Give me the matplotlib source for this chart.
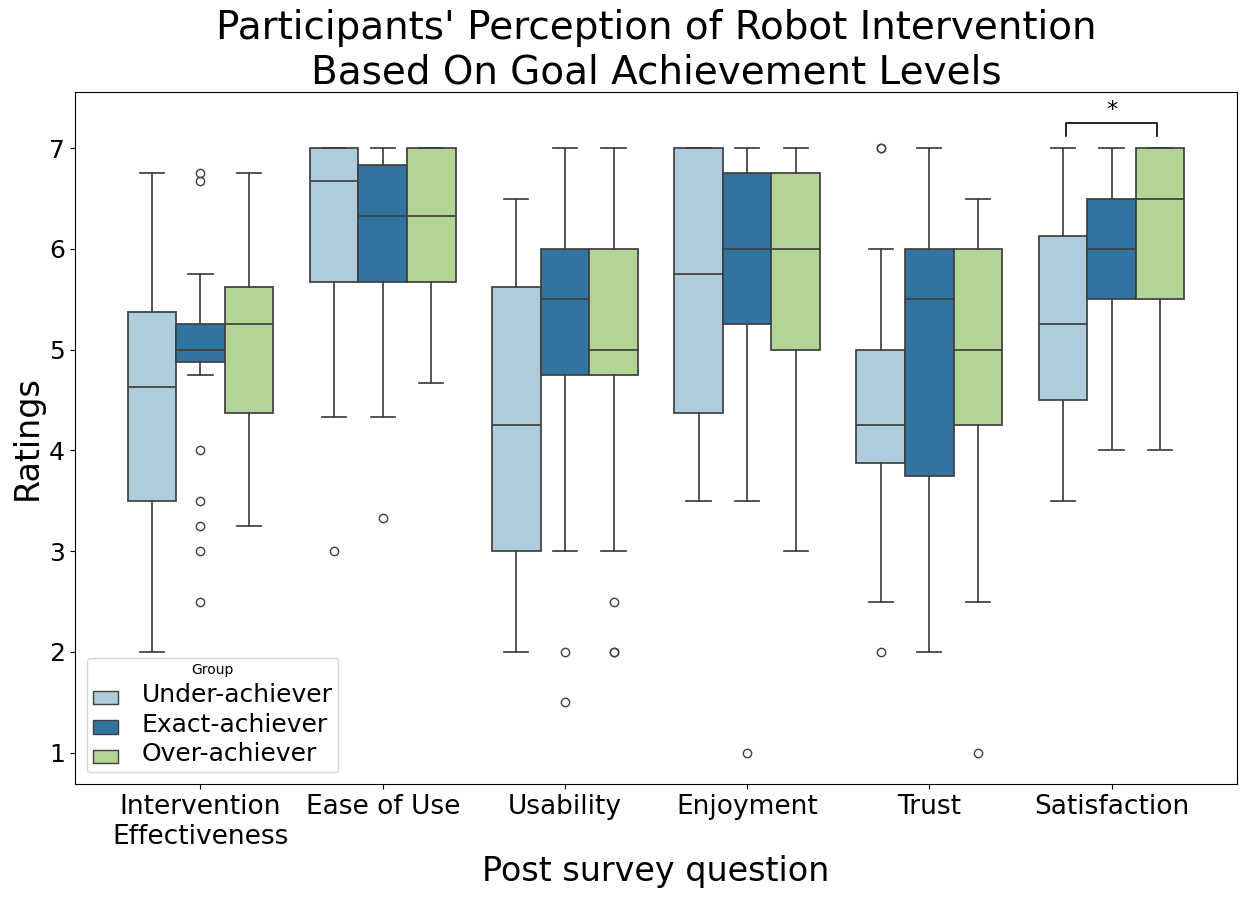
import matplotlib.pyplot as plt
import seaborn as sns
from matplotlib.patches import Patch

questions = ["Intervention\nEffectiveness", "Ease of Use", "Usability",
             "Enjoyment", "Trust", "Satisfaction"]
groups = ["Under-achiever", "Exact-achiever", "Over-achiever"]

# box statistics, one entry per question
under_q1 = [3.5, 5.67, 3.0, 4.375, 3.875, 4.5]
under_med = [4.625, 6.67, 4.25, 5.75, 4.25, 5.25]
under_q3 = [5.375, 7.0, 5.625, 7.0, 5.0, 6.125]
under_lo = [2.0, 4.33, 2.0, 3.5, 2.5, 3.5]
under_hi = [6.75, 7.0, 6.5, 7.0, 6.0, 7.0]
under_fliers = [[], [3.0], [], [], [7.0, 7.0, 2.0], []]

exact_q1 = [4.875, 5.67, 4.75, 5.25, 3.75, 5.5]
exact_med = [5.0, 6.33, 5.5, 6.0, 5.5, 6.0]
exact_q3 = [5.25, 6.83, 6.0, 6.75, 6.0, 6.5]
exact_lo = [4.75, 4.33, 3.0, 3.5, 2.0, 4.0]
exact_hi = [5.75, 7.0, 7.0, 7.0, 7.0, 7.0]
exact_fliers = [[6.75, 6.67, 4.0, 3.5, 3.25, 3.0, 2.5], [3.33], [2.0, 1.5], [1.0], [], []]

over_q1 = [4.375, 5.67, 4.75, 5.0, 4.25, 5.5]
over_med = [5.25, 6.33, 5.0, 6.0, 5.0, 6.5]
over_q3 = [5.625, 7.0, 6.0, 6.75, 6.0, 7.0]
over_lo = [3.25, 4.67, 3.0, 3.0, 2.5, 4.0]
over_hi = [6.75, 7.0, 7.0, 7.0, 6.5, 7.0]
over_fliers = [[], [], [2.5, 2.0, 2.0], [], [1.0], []]

group_stats = [
    (under_q1, under_med, under_q3, under_lo, under_hi, under_fliers),
    (exact_q1, exact_med, exact_q3, exact_lo, exact_hi, exact_fliers),
    (over_q1, over_med, over_q3, over_lo, over_hi, over_fliers),
]

colors = sns.color_palette("Paired", 3, desat=0.75)
line_color = "#3f3f3f"

fig, ax = plt.subplots(figsize=(12.46, 8.99), dpi=100)
fig.subplots_adjust(left=0.060, right=0.993, top=0.898, bottom=0.128)

w = 0.8 / 3
for j, (q1, med, q3, lo, hi, fl) in enumerate(group_stats):
    stats = []
    for i in range(len(questions)):
        stats.append(dict(q1=q1[i], med=med[i], q3=q3[i],
                          whislo=lo[i], whishi=hi[i], fliers=fl[i]))
    pos = [i + (j - 1) * w for i in range(len(questions))]
    ax.bxp(stats, positions=pos, widths=w, patch_artist=True, manage_ticks=False,
           boxprops=dict(facecolor=colors[j], edgecolor=line_color, linewidth=1.25),
           medianprops=dict(color=line_color, linewidth=1.25),
           whiskerprops=dict(color=line_color, linewidth=1.25),
           capprops=dict(color=line_color, linewidth=1.25),
           flierprops=dict(marker="o", markerfacecolor="none",
                           markeredgecolor=line_color, markersize=6))

# significance bracket on Satisfaction
x1, x2 = 5 - 0.25, 5 + 0.25
ax.plot([x1, x1, x2, x2], [7.12, 7.25, 7.25, 7.12], color="black", linewidth=1.2)
ax.text(5, 7.28, "*", ha="center", va="bottom", fontsize=16)

ax.set_xticks(range(len(questions)))
ax.set_xticklabels(questions, fontsize=19)
ax.set_yticks(range(1, 8))
ax.tick_params(axis="y", labelsize=18)
ax.set_xlim(-0.69, 5.69)
ax.set_ylim(0.69, 7.56)

ax.set_title("Participants' Perception of Robot Intervention\nBased On Goal Achievement Levels",
             fontsize=28)
ax.set_xlabel("Post survey question", fontsize=24)
ax.set_ylabel("Ratings", fontsize=24)

handles = [Patch(facecolor=colors[j], edgecolor=line_color, label=g)
           for j, g in enumerate(groups)]
leg = ax.legend(handles=handles, title="Group", loc="lower left",
                handlelength=1.85, handleheight=1.1, handletextpad=1.7,
                labelspacing=0.4, borderaxespad=0.88)
# enlarge label text after the legend is laid out at the default size
for t in leg.get_texts():
    t.set_fontsize(18)

fig.savefig("out.png", dpi=100)
